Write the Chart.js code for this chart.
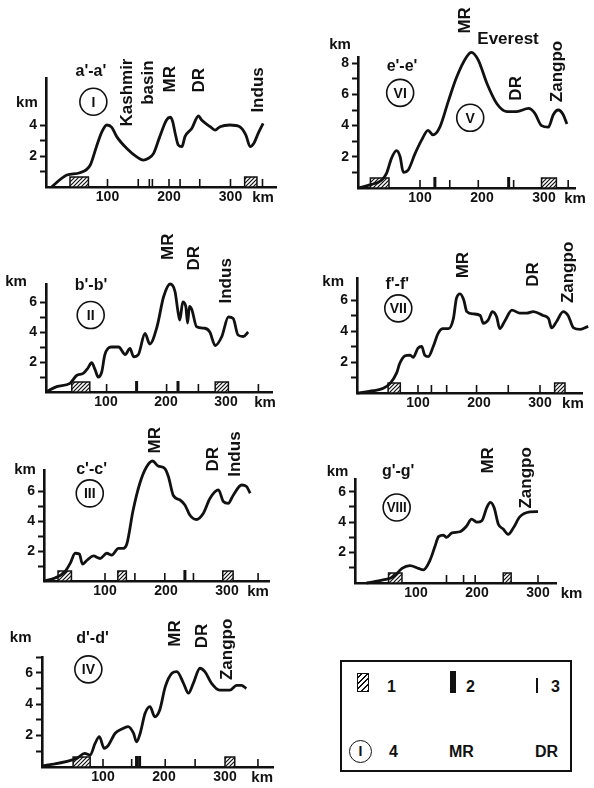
<!DOCTYPE html>
<html>
<head>
<meta charset="utf-8">
<script src="https://cdn.jsdelivr.net/npm/chart.js@4.4.1/dist/chart.umd.min.js"></script>
<style>
  html, body { margin: 0; padding: 0; background: #fff; }
  body { width: 594px; height: 788px; position: relative; overflow: hidden;
         font-family: "Liberation Sans", Arial, sans-serif; color: #111; }
  canvas.p { position: absolute; }
  .lg { position: absolute; font-weight: bold; font-size: 16px; line-height: 16px; }
</style>
</head>
<body>
<div style="position:absolute;left:340px;top:660px;width:228px;height:108px;border:2px solid #111;"></div>
<div style="position:absolute;left:357px;top:673px;width:10px;height:17px;border:1.5px solid #111;background:repeating-linear-gradient(-45deg,#111 0 1.4px,#fff 1.4px 4px);"></div>
<span class="lg" style="left:387px;top:679px;">1</span>
<div style="position:absolute;left:450px;top:671px;width:6px;height:22px;background:#111;"></div>
<span class="lg" style="left:466px;top:679px;">2</span>
<div style="position:absolute;left:536px;top:678px;width:2px;height:15px;background:#111;"></div>
<span class="lg" style="left:551px;top:679px;">3</span>
<div style="position:absolute;left:349px;top:740px;width:21px;height:21px;border:1.5px solid #111;border-radius:50%;text-align:center;font-size:14px;font-weight:bold;line-height:21px;">I</div>
<span class="lg" style="left:389px;top:744px;">4</span>
<span class="lg" style="left:449px;top:744px;">MR</span>
<span class="lg" style="left:535px;top:744px;">DR</span>

<script>
// Profile data: distance along section (km) and elevation (km)
const kmI   = [9, 34, 55, 72, 82, 91, 99, 107, 115, 131, 147, 158, 166, 175, 185, 196, 202, 206, 210, 215, 221, 226, 237, 248, 253, 267, 275, 283, 299, 315, 325, 332, 338, 345, 353];
const elevI = [0, 0.77, 0.92, 1.42, 2.6, 3.57, 4.0, 3.85, 3.25, 2.5, 1.96, 1.74, 1.84, 2.17, 3.25, 4.32, 4.5, 4.22, 3.47, 2.71, 2.6, 3.25, 3.78, 4.58, 4.32, 3.89, 3.67, 3.89, 4.0, 3.89, 3.35, 2.6, 2.82, 3.46, 4.11];

const kmVI   = [0, 19, 38, 46, 54, 62, 68, 73, 81, 92, 103, 113, 121, 132, 146, 159, 175, 183, 194, 208, 224, 240, 256, 275, 285, 296, 307, 315, 323, 331, 337];
const elevVI = [0, 0.2, 0.5, 0.94, 1.9, 2.4, 2.0, 1.0, 1.15, 2.2, 3.1, 3.7, 3.4, 3.9, 5.6, 7.1, 8.4, 8.7, 8.2, 6.7, 5.4, 4.9, 4.9, 5.1, 4.8, 4.0, 3.9, 4.7, 5.0, 4.7, 4.1];

const kmII   = [0, 18, 40, 51, 62, 70, 76, 82, 87, 93, 98, 109, 121, 132, 140, 146, 154, 165, 173, 185, 196, 207, 215, 220, 223, 228, 233, 236, 239, 243, 251, 265, 273, 282, 293, 304, 312, 320, 329, 337];
const elevII = [0, 0.36, 0.58, 1.1, 1.24, 1.6, 1.95, 1.47, 1.0, 1.35, 2.47, 3.0, 3.0, 2.5, 2.9, 2.35, 2.5, 3.9, 3.2, 4.35, 6.35, 7.2, 6.7, 5.35, 4.8, 6.0, 5.7, 4.6, 5.7, 5.5, 4.35, 4.25, 4.0, 3.1, 3.7, 5.0, 4.9, 3.8, 3.7, 4.0];

const kmVII   = [0, 27, 43, 54, 65, 70, 79, 87, 92, 100, 106, 111, 117, 125, 133, 141, 150, 158, 163, 169, 175, 180, 191, 202, 207, 215, 222, 229, 234, 243, 254, 267, 278, 289, 305, 314, 319, 327, 338, 346, 355, 366, 379];
const elevVII = [0, 0.15, 0.3, 0.6, 1.3, 1.9, 2.4, 2.45, 2.3, 2.9, 3.0, 2.45, 2.35, 3.0, 3.85, 4.15, 4.15, 4.8, 6.1, 6.4, 6.0, 5.25, 5.1, 5.0, 4.5, 4.7, 5.25, 4.9, 4.15, 4.7, 5.35, 5.15, 5.15, 5.25, 5.0, 4.8, 4.2, 4.6, 5.25, 5.0, 4.2, 4.1, 4.3];

const kmIII   = [0, 18, 34, 43, 51, 58, 63, 71, 81, 92, 103, 111, 122, 130, 136, 146, 157, 168, 178, 187, 198, 204, 212, 223, 231, 239, 250, 261, 272, 286, 294, 302, 310, 324, 332, 338];
const elevIII = [0, 0.2, 0.6, 1.18, 1.85, 1.8, 1.13, 1.4, 1.67, 1.5, 1.85, 1.73, 2.18, 2.18, 2.5, 4.7, 6.5, 7.6, 8.0, 7.67, 7.5, 6.95, 5.7, 5.4, 5.07, 4.4, 4.1, 4.5, 5.5, 6.07, 5.3, 5.18, 5.7, 6.4, 6.3, 5.85];

const kmVIII   = [19, 46, 63, 77, 90, 104, 112, 123, 131, 137, 145, 150, 159, 172, 183, 191, 200, 208, 216, 222, 228, 235, 243, 251, 260, 270, 287, 300];
const elevVIII = [0, 0.2, 0.4, 0.96, 1.14, 0.96, 0.86, 1.5, 2.4, 3.05, 3.15, 3.0, 3.3, 3.37, 3.75, 4.2, 4.0, 4.1, 4.96, 5.3, 4.96, 3.87, 3.55, 3.2, 3.65, 4.35, 4.68, 4.7];

const kmIV   = [0, 57, 70, 79, 87, 94, 102, 109, 120, 131, 141, 150, 155, 161, 169, 177, 185, 193, 202, 213, 221, 232, 240, 248, 259, 267, 278, 291, 308, 319, 327, 335];
const elevIV = [0.06, 0.55, 0.87, 0.76, 1.5, 1.93, 1.19, 1.4, 2.15, 2.42, 2.57, 2.15, 1.6, 2.15, 3.42, 3.84, 3.2, 3.63, 5.1, 5.97, 6.07, 5.33, 4.7, 5.33, 6.29, 6.07, 5.33, 4.9, 4.9, 5.2, 5.2, 5.0];

// baseline symbols (km): 1 = hatched interval, 2 = thick bar, 3 = thin bar
const hatchI = [[39, 69], [323, 343]],  thickI = [],  thinI = [100, 150, 168, 173, 200, 218, 250, 300, 352];
const hatchVI = [[20, 50], [296, 320]], thickVI = [124, 243], thinVI = [100, 148, 194, 251, 339];
const hatchII = [[43, 73], [282, 304]], thickII = [151, 220], thinII = [101, 201, 254, 354];
const hatchVII = [[51, 71], [324, 341]], thickVII = [], thinVII = [100, 122, 147, 196, 248, 300];
const hatchIII = [[23, 45], [121, 135], [293, 310]], thickIII = [231], thinIII = [100, 149, 198, 245, 351];
const hatchVIII = [[55, 77], [243, 256]], thickVIII = [], thinVIII = [150, 178, 197, 300];
const hatchIV = [[51, 79], [300, 316]], thickIV = [155, 160], thinIV = [100, 147, 202, 251, 354];

const xTickLabels = [100, 200, 300];

const INK = "#111";
const FONT = '"Liberation Sans", Arial, sans-serif';
const YW = 30, XH = 20;

// layout of each small profile on the page (axis origin, px per km, axis extent)
const panels = [
  { name: "I", box: [0, 0, 297, 217], ox: 46, oy: 187, sx: 0.615, sy: 15.5, xmax: 375, ymax: 7, ytop: 4,
    km: kmI, elev: elevI, hatch: hatchI, thick: thickI, thin: thinI,
    sec: ["a'-a'", 73, 7.44], circles: [["I", 77, 5.5]], kmY: [-31, 5.4], kmX: 353,
    words: [["Kashmir", 133, 3.9], ["basin", 166, 5.3], ["MR", 202, 6.1], ["DR", 250, 6.1], ["Indus", 345, 4.8]] },
  { name: "VI", box: [297, 0, 297, 218], ox: 358, oy: 188, sx: 0.62, sy: 15.6, xmax: 350, ymax: 8.4, ytop: 8,
    km: kmVI, elev: elevVI, hatch: hatchVI, thick: thickVI, thin: thinVI,
    sec: ["e'-e'", 71, 7.8], circles: [["VI", 68, 6.1], ["V", 181, 4.5]], kmY: [-29, 9.2], kmX: 350,
    flat: [["Everest", 242, 9.5]],
    words: [["MR", 173, 9.9], ["DR", 256, 5.6], ["Zangpo", 322, 5.5]] },
  { name: "II", box: [0, 225, 297, 197], ox: 46, oy: 392, sx: 0.6, sy: 15, xmax: 378, ymax: 7.2, ytop: 6,
    km: kmII, elev: elevII, hatch: hatchII, thick: thickII, thin: thinII,
    sec: ["b'-b'", 75, 7.1], circles: [["II", 74.5, 5.13]], kmY: [-50, 7.35], kmX: 365,
    words: [["MR", 204, 8.8], ["DR", 247, 8.1], ["Indus", 301, 5.9]] },
  { name: "VII", box: [297, 225, 297, 198], ox: 357, oy: 393, sx: 0.61, sy: 15.5, xmax: 370, ymax: 7.4, ytop: 6,
    km: kmVII, elev: elevVII, hatch: hatchVII, thick: thickVII, thin: thinVII,
    sec: ["f'-f'", 66, 6.97], circles: [["VII", 67.7, 5.46]], kmY: [-39, 7.18], kmX: 354,
    words: [["MR", 174, 7.4], ["DR", 289, 6.86], ["Zangpo", 346, 5.8]] },
  { name: "III", box: [0, 415, 297, 196], ox: 44, oy: 581, sx: 0.61, sy: 15, xmax: 370, ymax: 7.4, ytop: 6,
    km: kmIII, elev: elevIII, hatch: hatchIII, thick: thickIII, thin: thinIII,
    sec: ["c'-c'", 78, 7.4], circles: [["III", 75, 5.84]], kmY: [-31, 7.4], kmX: 351,
    words: [["MR", 182, 8.5], ["DR", 277.5, 7.3], ["Indus", 313, 6.95]] },
  { name: "VIII", box: [297, 415, 297, 198], ox: 355, oy: 583, sx: 0.61, sy: 15.2, xmax: 331, ymax: 6.8, ytop: 6,
    km: kmVIII, elev: elevVIII, hatch: hatchVIII, thick: thickVIII, thin: thinVIII,
    sec: ["g'-g'", 70.7, 7.32], circles: [["VIII", 68.3, 4.97]], kmY: [-28.7, 7.32], kmX: 355,
    words: [["MR", 218.6, 7.2], ["Zangpo", 281, 4.9]] },
  { name: "IV", box: [0, 600, 297, 188], ox: 42, oy: 767, sx: 0.61, sy: 15.7, xmax: 380, ymax: 7, ytop: 7,
    km: kmIV, elev: elevIV, hatch: hatchIV, thick: thickIV, thin: thinIV,
    sec: ["d'-d'", 82.8, 8.2], circles: [["IV", 76, 6.22]], kmY: [-35, 8.2], kmX: 361,
    words: [["MR", 218, 7.66], ["DR", 262, 7.56], ["Zangpo", 303, 5.54]] },
];

function hatchPattern(ctx) {
  const c = document.createElement("canvas");
  c.width = 4; c.height = 4;
  const g = c.getContext("2d");
  g.strokeStyle = INK; g.lineWidth = 1.2;
  g.beginPath();
  g.moveTo(-1, 5); g.lineTo(5, -1);
  g.moveTo(-1, 1); g.lineTo(1, -1);
  g.moveTo(3, 5); g.lineTo(5, 3);
  g.stroke();
  return ctx.createPattern(c, "repeat");
}

function marksPlugin(p) {
  return {
    id: "profileMarks",
    beforeDatasetsDraw(chart) {
      const { ctx } = chart, xs = chart.scales.x, ys = chart.scales.y;
      const y0 = ys.getPixelForValue(0);
      ctx.save();
      ctx.strokeStyle = INK; ctx.fillStyle = INK; ctx.lineWidth = 1.6;
      p.thin.forEach(v => {
        const px = xs.getPixelForValue(v);
        ctx.beginPath(); ctx.moveTo(px, y0); ctx.lineTo(px, y0 - 8); ctx.stroke();
      });
      p.thick.forEach(v => ctx.fillRect(xs.getPixelForValue(v) - 1.5, y0 - 11, 3, 11));
      const pat = hatchPattern(ctx);
      ctx.lineWidth = 1.5;
      p.hatch.forEach(([a, b]) => {
        const xa = xs.getPixelForValue(a), w = xs.getPixelForValue(b) - xa;
        ctx.fillStyle = "#fff"; ctx.fillRect(xa, y0 - 10, w, 10);
        ctx.fillStyle = pat; ctx.fillRect(xa, y0 - 10, w, 10);
        ctx.strokeRect(xa, y0 - 10, w, 10);
      });
      ctx.restore();
    },
    afterDraw(chart) {
      const { ctx } = chart, xs = chart.scales.x, ys = chart.scales.y;
      const X = v => xs.getPixelForValue(v), Y = v => ys.getPixelForValue(v);
      ctx.save();
      ctx.fillStyle = INK; ctx.strokeStyle = INK;
      ctx.textBaseline = "middle";
      // axis units
      ctx.font = "bold 15px " + FONT; ctx.textAlign = "center";
      ctx.fillText("km", X(p.kmY[0]), Y(p.kmY[1]));
      ctx.fillText("km", X(p.kmX), Y(0) + 11);
      // section name
      ctx.font = "bold 16px " + FONT;
      ctx.fillText(p.sec[0], X(p.sec[1]), Y(p.sec[2]));
      // horizontal words
      ctx.font = "bold 17px " + FONT;
      (p.flat || []).forEach(([t, a, b]) => ctx.fillText(t, X(a), Y(b)));
      // rotated words, anchored at their lower end
      ctx.textAlign = "left";
      p.words.forEach(([t, a, b]) => {
        ctx.save();
        ctx.translate(X(a), Y(b));
        ctx.rotate(-Math.PI / 2);
        ctx.fillText(t, 0, 0);
        ctx.restore();
      });
      // circled numerals
      ctx.lineWidth = 1.6; ctx.textAlign = "center";
      ctx.font = "bold 14px " + FONT;
      p.circles.forEach(([t, a, b]) => {
        const cx = X(a), cy = Y(b);
        ctx.beginPath(); ctx.arc(cx, cy, 13.5, 0, Math.PI * 2); ctx.stroke();
        const w = ctx.measureText(t).width, k = Math.min(1, 20 / w);
        ctx.save(); ctx.translate(cx, cy + 1); ctx.scale(k, 1);
        ctx.fillText(t, 0, 0);
        ctx.restore();
      });
      ctx.restore();
    }
  };
}

function buildPanel(p) {
  const [cx, cy, cw, ch] = p.box;
  const cv = document.createElement("canvas");
  cv.className = "p";
  cv.width = cw; cv.height = ch;
  cv.style.left = cx + "px"; cv.style.top = cy + "px";
  cv.style.width = cw + "px"; cv.style.height = ch + "px";
  document.body.appendChild(cv);

  const left = p.ox, right = p.ox + p.xmax * p.sx;
  const top = p.oy - p.ymax * p.sy, bottom = p.oy;
  const padding = {
    left: left - cx - YW,
    right: cx + cw - right,
    top: top - cy,
    bottom: cy + ch - bottom - XH,
  };
  const tickFont = { family: FONT, size: 14, weight: "bold" };
  const yTicks = [];
  for (let v = 1; v <= p.ytop; v++) yTicks.push({ value: v });

  new Chart(cv, {
    type: "line",
    data: {
      datasets: [{
        data: p.km.map((k, i) => ({ x: k, y: p.elev[i] })),
        borderColor: INK, borderWidth: 2.8, pointRadius: 0,
        cubicInterpolationMode: "monotone", fill: false, clip: false,
      }],
    },
    options: {
      responsive: false, animation: false, events: [],
      layout: { padding },
      plugins: { legend: { display: false }, tooltip: { enabled: false } },
      scales: {
        x: {
          type: "linear", min: 0, max: p.xmax,
          afterFit: s => { s.height = XH; s.paddingLeft = 0; s.paddingRight = 0; },
          afterBuildTicks: s => { s.ticks = xTickLabels.map(v => ({ value: v })); },
          ticks: { stepSize: 100, autoSkip: false, maxRotation: 0, padding: 2, color: INK, font: tickFont },
          grid: { display: false, drawTicks: false },
          border: { display: true, color: INK, width: 2.6 },
        },
        y: {
          type: "linear", min: 0, max: p.ymax,
          afterFit: s => { s.width = YW; s.paddingTop = 0; s.paddingBottom = 0; },
          afterBuildTicks: s => { s.ticks = yTicks.slice(); },
          ticks: { autoSkip: false, padding: 3, color: INK, font: tickFont,
                   callback: v => (v % 2 === 0 ? String(v) : "") },
          grid: { drawOnChartArea: false, drawTicks: true, tickLength: 6, tickWidth: 2, color: INK },
          border: { display: true, color: INK, width: 2.6 },
        },
      },
    },
    plugins: [marksPlugin(p)],
  });
}

panels.forEach(buildPanel);
</script>
</body>
</html>
